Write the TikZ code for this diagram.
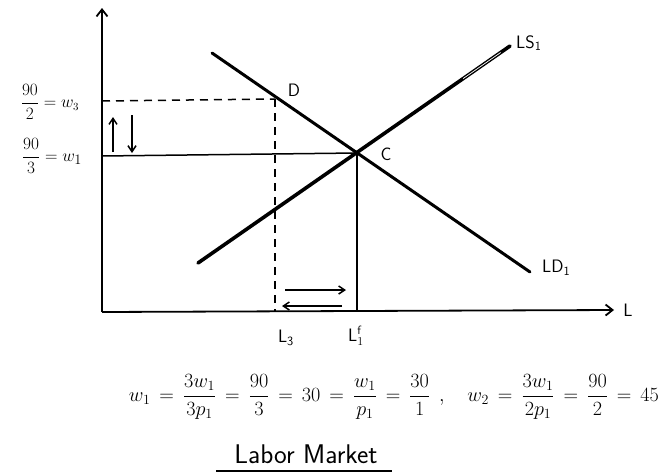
\documentclass[tikz,border=0pt]{standalone}
\usepackage{graphicx}
\usetikzlibrary{arrows.meta,calc}
\begin{document}
\begin{tikzpicture}[x=1pt,y=-1pt,
  curve/.style={line width=3pt, line cap=round},
  axis/.style={line width=1.8pt, -{Straight Barb[length=7pt,width=11pt,line width=1.8pt]}},
  guide/.style={line width=1.5pt},
  dashguide/.style={line width=1.5pt, dash pattern=on 8pt off 6pt},
  lab/.style={font=\fontsize{18}{20}\selectfont\sffamily, inner sep=0pt},
  move/.style={line width=1.5pt, -{Straight Barb[length=6pt,width=8pt,line width=1.5pt]}}]
\useasboundingbox (0,0) rectangle (664,474);
% axes
\coordinate (O) at (102,312);
\coordinate (Ytop) at (102,8);
\coordinate (Xend) at (614,310);
\draw[axis] (O) -- (Ytop);
\draw[axis] (O) -- (Xend);
% curves
\coordinate (LDa) at (212,53);
\coordinate (LDb) at (530,272);
\coordinate (LSa) at (198,263);
\coordinate (LSb) at (510,46);
\draw[curve] (LDa) -- (LDb);
\draw[curve, line width=3.6pt] (LSa) -- (LSb);
\draw[white, line width=0.7pt] ($(LSa)!0.85!(LSb)$) -- ($(LSa)!0.97!(LSb)$);
% points
\coordinate (C) at (357,153);
\coordinate (D) at (275,99);
\coordinate (W3) at (102,101);
\coordinate (W1) at (102,156);
\coordinate (L3foot) at (275,312);
\coordinate (Lffoot) at (357,312);
\draw[dashguide] (W3) -- (D);
\draw[dashguide] (D) -- (L3foot);
\draw[guide] (W1) -- (C);
\draw[guide] (C) -- (Lffoot);
% labels
\node[lab] (labD) at (294,90) {D};
\node[lab] (labC) at (386,154) {C};
\node[lab, anchor=west] (labLS) at (516,43) {LS\textsubscript{1}};
\node[lab, anchor=west] (labLD) at (542,268) {LD\textsubscript{1}};
\node[lab] (labL) at (628,310) {L};
\node[lab] (labL3) at (286,338) {L\textsubscript{3}};
\node[lab] (labLf) at (356,336) {L$^{\mathsf{f}}_{1}$};
\node[font=\fontsize{16}{18}\selectfont, inner sep=0pt] (labw3) at (50,102) {$\displaystyle\frac{90}{2} = w_3$};
\node[font=\fontsize{19}{21}\selectfont, inner sep=0pt] (labw1) at (52,156) {$\displaystyle\frac{90}{3} = w_1$};
% adjustment arrows
\coordinate (ua1) at (113,152);
\coordinate (ua2) at (113,117);
\coordinate (da1) at (132,115);
\coordinate (da2) at (132,153);
\draw[move] (ua1) -- (ua2);
\draw[move] (da1) -- (da2);
\coordinate (ra1) at (285,290);
\coordinate (ra2) at (346,290);
\coordinate (la1) at (342,306);
\coordinate (la2) at (282,306);
\draw[move] (ra1) -- (ra2);
\draw[move] (la1) -- (la2);
% formula
\node[font=\fontsize{20}{22}\selectfont, inner sep=0pt] (formula) at (394,397)
  {\resizebox{530pt}{!}{$\thickmuskip=8mu\displaystyle w_1 = \frac{3w_1}{3p_1} = \frac{90}{3} = 30 = \frac{w_1}{p_1} = \frac{30}{1}\;,\quad w_2 = \frac{3w_1}{2p_1} = \frac{90}{2} = 45$}};
\node[font=\fontsize{27}{29}\selectfont\sffamily, inner sep=0pt] (title) at (306,454) {Labor Market};
\coordinate (ul1) at (216,471);
\coordinate (ul2) at (392,471);
\draw[guide] (ul1) -- (ul2);
\end{tikzpicture}
\end{document}
